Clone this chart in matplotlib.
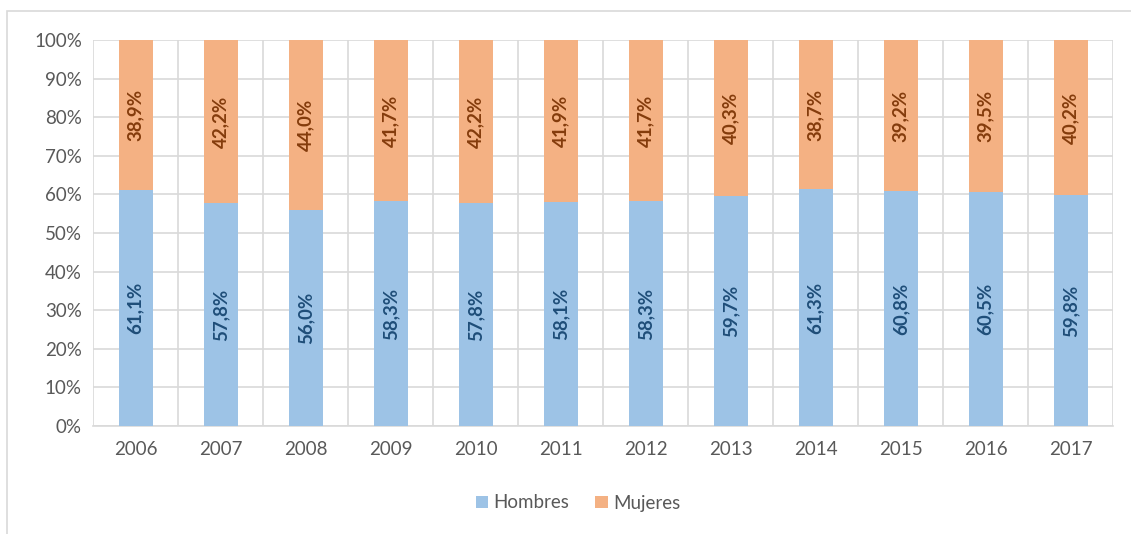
import matplotlib
matplotlib.use("Agg")
import matplotlib.pyplot as plt
from matplotlib.patches import Rectangle

years = ["2006", "2007", "2008", "2009", "2010", "2011", "2012", "2013", "2014", "2015", "2016", "2017"]
hombres = [61.1, 57.8, 56.0, 58.3, 57.8, 58.1, 58.3, 59.7, 61.3, 60.8, 60.5, 59.8]
mujeres = [38.9, 42.2, 44.0, 41.7, 42.2, 41.9, 41.7, 40.3, 38.7, 39.2, 39.5, 40.2]
yticks = list(range(0, 101, 10))

plt.rcParams['font.family'] = ['Lato', 'DejaVu Sans']

W, H = 1131, 534
fig = plt.figure(figsize=(W / 100, H / 100), dpi=100)
ax = fig.add_axes([93 / W, 1 - 426 / H, (1113 - 93) / W, (426 - 40) / H])

c_h = "#9DC3E6"
c_m = "#F4B183"
x = list(range(len(years)))
ax.bar(x, hombres, width=0.4, color=c_h, label="Hombres", zorder=3)
ax.bar(x, mujeres, width=0.4, bottom=hombres, color=c_m, label="Mujeres", zorder=3)

for i in x:
    ax.text(i, hombres[i] / 2, f"{hombres[i]:.1f}%".replace(".", ","), rotation=90,
            ha="center", va="center", fontsize=13.5, fontweight="bold", color="#1F4E79", zorder=4)
    ax.text(i, hombres[i] + mujeres[i] / 2, f"{mujeres[i]:.1f}%".replace(".", ","), rotation=90,
            ha="center", va="center", fontsize=13.5, fontweight="bold", color="#843C0C", zorder=4)

ax.set_xlim(-0.5, len(years) - 0.5)
ax.set_ylim(0, 100)
ax.set_yticks(yticks)
ax.set_yticklabels([f"{t}%" for t in yticks])
ax.set_xticks(x)
ax.set_xticklabels(years)
ax.set_xticks([i + 0.5 for i in range(-1, len(years))], minor=True)
ax.grid(axis="y", which="major", color="#D9D9D9", linewidth=1.2, zorder=0)
ax.grid(axis="x", which="minor", color="#D9D9D9", linewidth=1.2, zorder=0)
ax.tick_params(axis="both", which="both", length=0, labelsize=13.5, labelcolor="#595959")
ax.tick_params(axis="x", pad=11)
ax.tick_params(axis="y", pad=8)
for s in ["top", "right", "left"]:
    ax.spines[s].set_visible(False)
ax.spines["bottom"].set_color("#D9D9D9")
ax.spines["bottom"].set_linewidth(1.2)

leg = fig.legend(loc="center", bbox_to_anchor=(578 / W, 1 - 503 / H), ncol=2, frameon=False,
                 fontsize=13.5, handlelength=0.65, handleheight=0.65, columnspacing=1.4, handletextpad=0.3)
for t in leg.get_texts():
    t.set_color("#595959")

fig.patches.append(Rectangle((7 / W, -0.1), 1.2, 1 - 11 / H + 0.1, transform=fig.transFigure,
                             fill=False, edgecolor="#D9D9D9", linewidth=1.2))

fig.savefig("out.png", dpi=100)
